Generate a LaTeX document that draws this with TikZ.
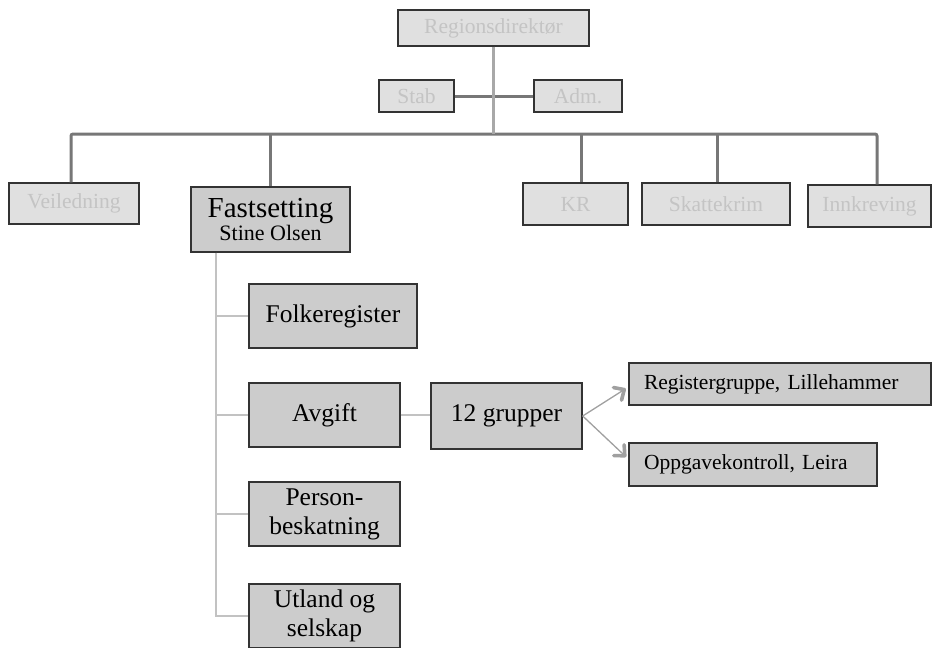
\documentclass[tikz,border=0pt]{standalone}
\usepackage{fontspec}
\setmainfont{Liberation Serif}
\usetikzlibrary{arrows.meta}
\definecolor{lightfill}{HTML}{E0E0E0}
\definecolor{midfill}{HTML}{CCCCCC}
\definecolor{boxborder}{HTML}{333333}
\definecolor{textgray}{HTML}{C4C4C4}
\definecolor{bardark}{HTML}{777777}
\definecolor{barlight}{HTML}{A8A8A8}
\definecolor{sublinec}{HTML}{C2C2C2}
\definecolor{arrowgray}{HTML}{A0A0A0}
\tikzset{
  basebox/.style={draw=boxborder, line width=1.4pt, inner sep=0pt, align=center},
  graybox/.style={basebox, fill=lightfill, text=textgray, font=\fontsize{21.5}{25}\selectfont},
  subbox/.style={basebox, fill=midfill, text=black, font=\fontsize{25.5}{29}\selectfont},
  leftbox/.style={basebox, fill=midfill, text=black, align=left, inner xsep=15pt, font=\fontsize{21.5}{25}\selectfont},
  darkbar/.style={draw=bardark, line width=3pt},
  lightbar/.style={draw=barlight, line width=3pt},
  subline/.style={draw=sublinec, line width=1.6pt},
  grayarrow/.style={draw=arrowgray, line width=1.3pt, -{Straight Barb[length=8pt,width=15pt,line width=3.6pt,round]}}
}
\begin{document}
\begin{tikzpicture}[x=1pt,y=-1pt]
\useasboundingbox (0,0) rectangle (932,648);
% top level
\node[graybox, minimum width=191pt, minimum height=36pt] (rd) at (493.5,28) {Regionsdirektør};
\node[graybox, minimum width=75pt, minimum height=32pt] (stab) at (416.5,96) {Stab};
\node[graybox, minimum width=88pt, minimum height=32pt] (adm) at (578,96) {Adm.};
% second level
\node[graybox, minimum width=130pt, minimum height=41pt] (veil) at (74,203.5) {Veiledning};
\node[basebox, fill=midfill, minimum width=159pt, minimum height=65pt] (fast) at (270.5,219.5)
  {\fontsize{29}{27}\selectfont Fastsetting\\[1pt]\fontsize{22}{27}\selectfont Stine Olsen};
\node[graybox, minimum width=105pt, minimum height=42pt] (kr) at (575.5,204) {KR};
\node[graybox, minimum width=148pt, minimum height=42pt] (skk) at (716,204) {Skattekrim};
\node[graybox, minimum width=123pt, minimum height=42pt] (innk) at (869.5,206) {Innkreving};
% sub units
\node[subbox, minimum width=168pt, minimum height=64pt] (folk) at (333,316) {Folkeregister};
\node[subbox, minimum width=151pt, minimum height=64pt] (avg) at (324.5,415) {Avgift};
\node[subbox, minimum width=151pt, minimum height=64pt] (pers) at (324.5,514) {Person-\\beskatning};
\node[subbox, minimum width=151pt, minimum height=64pt] (utl) at (324.5,616) {Utland og\\selskap};
\node[subbox, minimum width=151pt, minimum height=66pt] (grp) at (506.5,416) {12 grupper};
\node[leftbox, text width=272pt, minimum height=42pt] (reg) at (780,384) {Registergruppe, Lillehammer};
\node[leftbox, text width=218pt, minimum height=43pt] (opp) at (753,464.5) {Oppgavekontroll, Leira};
% coordinates for the bar
\coordinate (bar) at (494,134);
\coordinate (dv) at (71,134);
\coordinate (df) at (270,134);
\coordinate (dk) at (581,134);
\coordinate (ds) at (717,134);
\coordinate (di) at (877,134);
\coordinate (sx) at (216,0);
% connectors
\draw[darkbar] (stab.east) -- (adm.west);
\draw[darkbar, rounded corners=2pt] (dv |- veil.north) -- (dv) -- (di) -- (di |- innk.north);
\draw[darkbar] (df) -- (df |- fast.north);
\draw[darkbar] (dk) -- (dk |- kr.north);
\draw[darkbar] (ds) -- (ds |- skk.north);
\draw[lightbar] (rd.south) -- (rd.south |- bar);
\draw[subline] (sx |- fast.south) -- (sx |- utl.west) -- (utl.west);
\draw[subline] (sx |- folk.west) -- (folk.west);
\draw[subline] (sx |- avg.west) -- (avg.west);
\draw[subline] (sx |- pers.west) -- (pers.west);
\draw[subline] (avg.east) -- (avg.east -| grp.west);
\draw[grayarrow, shorten >=3pt] (grp.east) -- (reg.west |- 0,387);
\draw[grayarrow, shorten >=3pt] (grp.east) -- (opp.west |- 0,459);
\end{tikzpicture}
\end{document}
